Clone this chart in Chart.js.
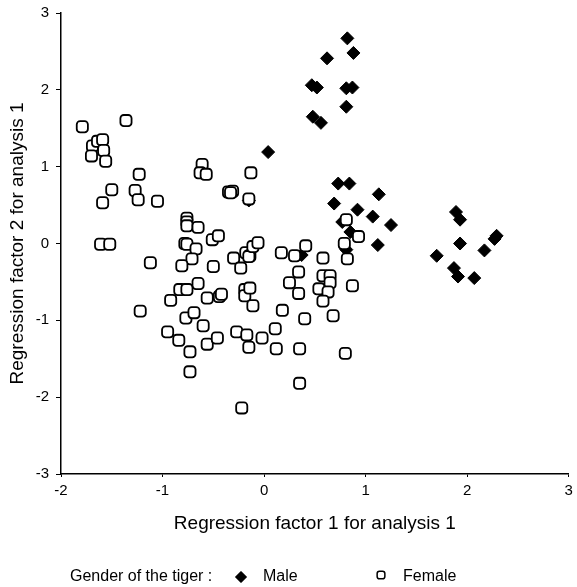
<!DOCTYPE html>
<html>
<head>
<meta charset="utf-8">
<script src="https://cdn.jsdelivr.net/npm/chart.js@4"></script>
<style>
  html, body { margin: 0; padding: 0; background: #fff; }
  canvas { display: block; }
</style>
</head>
<body>
<canvas id="chart" width="577" height="587"></canvas>
<script>
// Regression factor scores
const maleX = [0.82, 0.88, 0.62, 0.47, 0.52, 0.81, 0.87, 0.81, 0.48, 0.56,
  0.04, -0.15,
  0.73, 0.84, 1.13, 0.69, 0.92, 1.07, 1.25, 0.77, 0.85, 1.12, 0.81, 0.37,
  1.89, 1.93, 2.29, 2.27, 1.93, 2.17, 1.70, 1.87, 1.91, 2.07];
const maleY = [2.67, 2.48, 2.41, 2.06, 2.03, 2.02, 2.03, 1.78, 1.65, 1.57,
  1.19, 0.56,
  0.78, 0.78, 0.64, 0.52, 0.44, 0.35, 0.24, 0.28, 0.15, -0.02, -0.08, -0.15,
  0.41, 0.31, 0.10, 0.06, 0.00, -0.09, -0.16, -0.32, -0.43, -0.45];

const femaleX = [-1.79, -1.36, -1.69, -1.64, -1.59, -1.70, -1.58, -1.56, -1.23, -1.50,
  -1.27, -1.24, -1.59, -1.05, -1.61, -1.52, -0.76, -0.76, -0.76, -0.65,
  -0.78, -0.76, -0.61, -0.63, -0.57, -0.13, -0.35, -0.31, -0.33, -0.15,
  -0.67, -0.51, -0.45, -1.12, -0.71, -0.81, -0.50, -0.30, -0.23, -0.18,
  -0.14, -0.15, -0.11, -0.06, 0.17, 0.30, 0.41, 0.34, 0.25, 0.34,
  0.18, 0.40, 0.11, 0.12, 0.35, 0.35, -0.22, -0.65, -0.83, -0.76,
  -0.92, -0.56, -0.44, -0.42, -0.19, -0.19, -0.14, -0.11, -1.22, -0.77,
  -0.69, -0.60, -0.95, -0.84, -0.73, -0.73, -0.56, -0.46, -0.27, -0.17,
  -0.15, -0.02, 0.58, 0.81, 0.93, 0.79, 0.82, 0.58, 0.65, 0.65,
  0.54, 0.63, 0.58, 0.87, 0.68, 0.80];
const femaleY = [1.52, 1.60, 1.27, 1.33, 1.35, 1.14, 1.21, 1.07, 0.90, 0.70,
  0.69, 0.57, 0.53, 0.55, -0.01, -0.01, 0.33, 0.28, 0.23, 0.21,
  0.00, -0.01, 1.03, 0.92, 0.90, 0.92, 0.67, 0.68, 0.66, 0.58,
  -0.07, 0.05, 0.10, -0.25, -0.20, -0.29, -0.30, -0.19, -0.32, -0.12,
  -0.16, -0.17, -0.04, 0.01, -0.12, -0.16, -0.03, -0.37, -0.51, -0.65,
  -0.87, -0.98, -1.11, -1.37, -1.37, -1.82, -2.14, -0.52, -0.60, -0.60,
  -0.74, -0.71, -0.69, -0.66, -0.60, -0.68, -0.58, -0.81, -0.88, -0.97,
  -0.90, -1.07, -1.15, -1.26, -1.41, -1.67, -1.31, -1.23, -1.15, -1.19,
  -1.35, -1.23, -0.19, 0.31, 0.09, 0.00, -0.20, -0.42, -0.42, -0.51,
  -0.59, -0.63, -0.75, -0.55, -0.94, -1.43];

const xTitle = 'Regression factor 1 for analysis 1';
const yTitle = 'Regression factor 2 for analysis 1';
const legendTitle = 'Gender of the tiger :';
const seriesNames = ['Male', 'Female'];

const FONT = "'Liberation Sans', Arial, sans-serif";
Chart.defaults.font.family = FONT;
Chart.defaults.color = '#000';

function toPoints(xs, ys) {
  return xs.map((x, i) => ({ x, y: ys[i] }));
}

// legend row under the x title, drawn by hand
const tigerLegend = {
  id: 'tigerLegend',
  afterDraw(chart) {
    const ctx = chart.ctx;
    const y = 577;
    ctx.save();
    ctx.fillStyle = '#000';
    ctx.font = '16px ' + FONT;
    ctx.textBaseline = 'middle';
    ctx.textAlign = 'left';
    ctx.fillText(legendTitle, 70, y);

    Chart.helpers.drawPoint(ctx, { pointStyle: 'rectRot', radius: 5.5, borderWidth: 1 }, 241, y);
    ctx.fill();
    ctx.fillText(seriesNames[0], 263, y);

    ctx.fillStyle = '#fff';
    ctx.strokeStyle = '#000';
    ctx.lineWidth = 1.5;
    Chart.helpers.drawPoint(ctx, { pointStyle: 'rectRounded', radius: 4.5, borderWidth: 1.5 }, 381, y - 2);
    ctx.fillStyle = '#000';
    ctx.fillText(seriesNames[1], 403, y);
    ctx.restore();
  },
};

new Chart(document.getElementById('chart'), {
  type: 'scatter',
  data: {
    datasets: [
      {
        label: seriesNames[1],
        data: toPoints(femaleX, femaleY),
        pointStyle: 'rectRounded',
        pointRadius: 6.5,
        backgroundColor: '#fff',
        borderColor: '#000',
        borderWidth: 1.8,
      },
      {
        label: seriesNames[0],
        data: toPoints(maleX, maleY),
        pointStyle: 'rectRot',
        pointRadius: 6.5,
        backgroundColor: '#000',
        borderColor: '#000',
        borderWidth: 1,
      },
    ],
  },
  options: {
    responsive: false,
    animation: false,
    layout: { padding: { top: 13, right: 3, left: 0, bottom: 50 } },
    plugins: {
      legend: { display: false },
      tooltip: { enabled: false },
    },
    scales: {
      x: {
        type: 'linear',
        min: -2,
        max: 3,
        afterFit(scale) {
          scale.height = 63;
          scale.paddingLeft = 0;
          scale.paddingRight = 0;
        },
        ticks: { stepSize: 1, color: '#000', font: { size: 15 }, padding: 5 },
        grid: { drawOnChartArea: false, drawTicks: true, tickLength: 3, color: '#000' },
        border: { color: '#000', width: 1.5 },
        title: { display: true, text: xTitle, color: '#000', font: { size: 19 }, padding: { top: 0, bottom: 2 } },
      },
      y: {
        type: 'linear',
        min: -3,
        max: 3,
        afterFit(scale) {
          scale.width = 61;
          scale.paddingTop = 0;
          scale.paddingBottom = 0;
        },
        ticks: { stepSize: 1, color: '#000', font: { size: 15 }, padding: 7 },
        grid: { drawOnChartArea: false, drawTicks: true, tickLength: 5, color: '#000' },
        border: { color: '#000', width: 1.5 },
        title: { display: true, text: yTitle, color: '#000', font: { size: 19 }, padding: { top: 6, bottom: 0 } },
      },
    },
  },
  plugins: [tigerLegend],
});
</script>
</body>
</html>
